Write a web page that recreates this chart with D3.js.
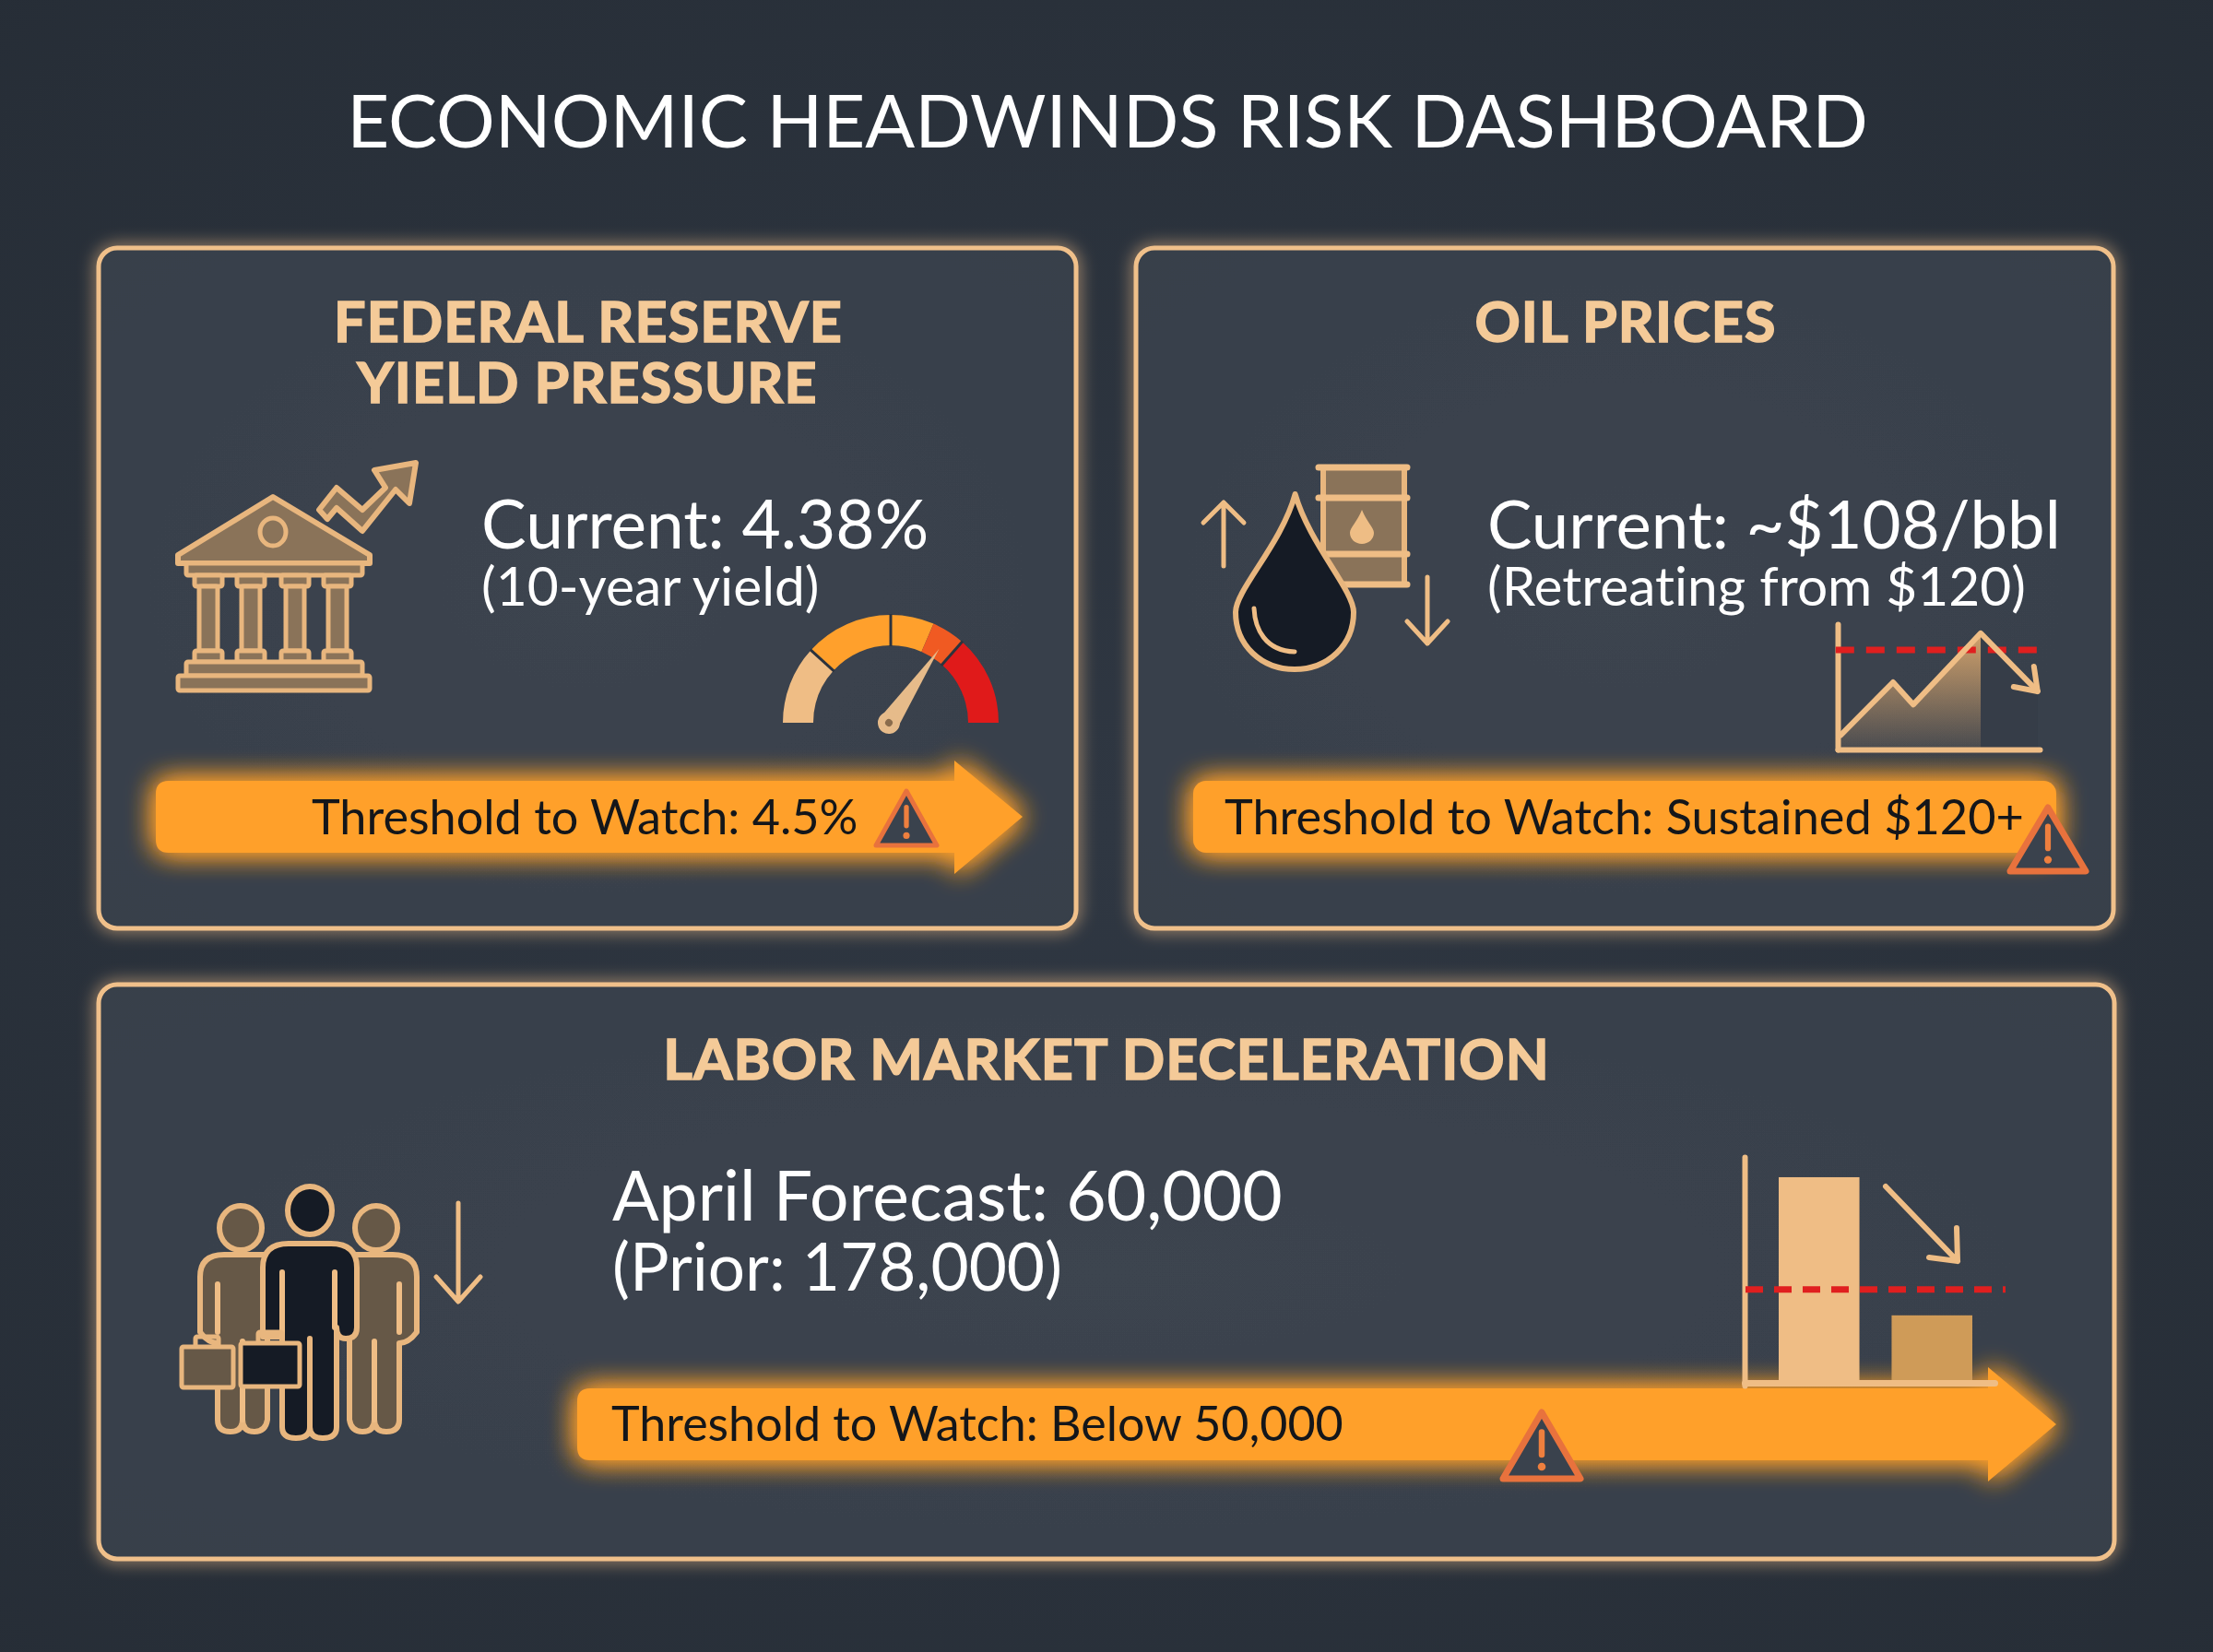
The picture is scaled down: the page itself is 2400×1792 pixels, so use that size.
<!DOCTYPE html>
<html>
<head>
<meta charset="utf-8">
<script src="https://cdn.jsdelivr.net/npm/d3@7"></script>
<style>
  html, body { margin: 0; padding: 0; background: #2a313b; }
  svg { display: block; }
  text { font-family: Lato, "Open Sans", sans-serif; font-variant-ligatures: none; }
</style>
</head>
<body>
<div id="container"></div>
<script>
/* CONSTANTS AND GLOBALS */
const width = 2400;
const height = 1792;
const TAN = "#efbd85";
const ORANGE = "#ffa02c";
const RED = "#e01f1f";
const INK = "#151b25";
const BROWN = "#8a7359";
const BROWN_DARK = "#665847";
const PANEL = "#3a424d";

/* DATA */
const titleText = "ECONOMIC HEADWINDS RISK DASHBOARD";

// gauge: 10-year yield
const gaugeStops = [3.0, 3.47, 4.0, 4.26, 4.46, 5.0];
const gaugeColors = [TAN, ORANGE, ORANGE, "#f05a22", "#e01a1a"];
const gaugeSeparators = [3.47, 4.0, 4.46];
const currentYield = 4.38;

// oil mini chart
const oilWeeks = [1.4, 27.4, 37.4, 70.8, 99];
const oilPrices = [17, 81, 54, 140, 70];
const oilThreshold = 120;

// payrolls mini chart
const jobCategories = ["Prior", "April Forecast"];
const jobValues = [178000, 60000];
const jobLineDrawn = 82000; // where the dashed line sits in the picture

/* APPENDING SVG */
const svg = d3.select("#container")
  .append("svg")
    .attr("width", width)
    .attr("height", height);

const defs = svg.append("defs");

const bgGrad = defs.append("radialGradient").attr("id", "bg").attr("r", "75%");
bgGrad.append("stop").attr("offset", "0%").attr("stop-color", "#2f3742");
bgGrad.append("stop").attr("offset", "100%").attr("stop-color", "#262d36");

const panelGrad = defs.append("radialGradient").attr("id", "panelFill").attr("r", "75%");
panelGrad.append("stop").attr("offset", "0%").attr("stop-color", "#3c444f");
panelGrad.append("stop").attr("offset", "100%").attr("stop-color", "#373f4a");

const areaGrad = defs.append("linearGradient").attr("id", "oilArea")
  .attr("x1", 0).attr("y1", 0).attr("x2", 0).attr("y2", 1);
areaGrad.append("stop").attr("offset", "0%").attr("stop-color", "#d2a26c");
areaGrad.append("stop").attr("offset", "100%").attr("stop-color", "#d2a26c").attr("stop-opacity", 0.1);

function glow(id, blur, strong) {
  const f = defs.append("filter").attr("id", id)
    .attr("x", "-15%").attr("y", "-60%").attr("width", "130%").attr("height", "220%");
  f.append("feGaussianBlur").attr("in", "SourceGraphic").attr("stdDeviation", blur).attr("result", "b");
  const m = f.append("feMerge");
  m.append("feMergeNode").attr("in", "b");
  if (strong) m.append("feMergeNode").attr("in", "b");
  m.append("feMergeNode").attr("in", "SourceGraphic");
}
glow("arrowGlow", 15, true);
glow("panelGlow", 9, false);

svg.append("rect").attr("width", width).attr("height", height).attr("fill", "url(#bg)");

/* TITLE */
svg.append("text")
  .attr("x", 1201).attr("y", 160)
  .attr("text-anchor", "middle")
  .attr("fill", "#ffffff")
  .style("font-size", "79.7px")
  .text(titleText);

/* PANELS */
const panelX = [107, 1232, 107];
const panelY = [269, 269, 1068];
const panelW = [1060, 1060, 2186];
const panelH = [738, 738, 623];

panelX.forEach((px, i) => {
  svg.append("rect")
    .attr("x", px).attr("y", panelY[i])
    .attr("width", panelW[i]).attr("height", panelH[i])
    .attr("rx", 20)
    .attr("fill", "url(#panelFill)")
    .attr("stroke", "#f0c08a")
    .attr("stroke-width", 5)
    .attr("filter", "url(#panelGlow)");
});

function label(txt, x, y, size, color, anchor, weight) {
  return svg.append("text")
    .attr("x", x).attr("y", y)
    .attr("text-anchor", anchor || "start")
    .attr("fill", color)
    .attr("font-weight", weight || 400)
    .style("font-size", size + "px")
    .text(txt);
}

// no heavier Lato here, so thicken the bold a bit
const HEAD = "#f4ca98";
function heading(txt, x, y) {
  label(txt, x, y, 61, HEAD, "middle", 700)
    .attr("stroke", HEAD).attr("stroke-width", 1.6)
    .style("letter-spacing", "1.1px");
}
heading("FEDERAL RESERVE", 638, 371);
heading("YIELD PRESSURE", 637, 437);
heading("OIL PRICES", 1763, 371);
heading("LABOR MARKET DECELERATION", 1200, 1171);

label("Current: 4.38%", 522, 595, 73, "#ffffff");
label("(10-year yield)", 522, 657, 58.7, "#ffffff");
label("Current: ~$108/bbl", 1613, 595, 72.5, "#ffffff");
label("(Retreating from $120)", 1613, 657, 58.6, "#ffffff");
label("April Forecast: 60,000", 664, 1324, 75, "#ffffff");
label("(Prior: 178,000)", 664, 1400, 71, "#ffffff");

/* THRESHOLD ARROWS */
function thresholdArrow(x0, xBase, xTip, top, bottom, headTop, headBottom) {
  const mid = (top + bottom) / 2;
  const r = 14;
  const d = `M${x0 + r},${top} H${xBase} V${headTop} L${xTip},${mid} L${xBase},${headBottom} V${bottom} H${x0 + r}
    Q${x0},${bottom} ${x0},${bottom - r} V${top + r} Q${x0},${top} ${x0 + r},${top} Z`;
  svg.append("path").attr("d", d).attr("fill", ORANGE).attr("filter", "url(#arrowGlow)");
}
thresholdArrow(169, 1035, 1109, 847, 925, 825, 948);
thresholdArrow(626, 2156, 2230, 1506, 1584, 1483, 1607);

svg.append("rect")
  .attr("x", 1294).attr("y", 847).attr("width", 936).attr("height", 78)
  .attr("rx", 14).attr("fill", ORANGE).attr("filter", "url(#arrowGlow)");

label("Threshold to Watch: 4.5%", 338, 905, 52.2, "#14161a");
label("Threshold to Watch: Sustained $120+", 1328, 905, 52.3, "#14161a");
label("Threshold to Watch: Below 50,000", 663, 1563, 52, "#14161a");

/* WARNING TRIANGLES */
function warning(cx, apex, base, half, sw) {
  const h = base - apex;
  const g = svg.append("g");
  g.append("path")
    .attr("d", `M${cx},${apex} L${cx + half},${base} L${cx - half},${base} Z`)
    .attr("fill", PANEL)
    .attr("stroke", "#e8723d")
    .attr("stroke-width", sw)
    .attr("stroke-linejoin", "round");
  g.append("line")
    .attr("x1", cx).attr("x2", cx)
    .attr("y1", apex + h * 0.3).attr("y2", apex + h * 0.64)
    .attr("stroke", "#ee7f3e").attr("stroke-width", h * 0.09).attr("stroke-linecap", "round");
  g.append("circle")
    .attr("cx", cx).attr("cy", apex + h * 0.82).attr("r", h * 0.06).attr("fill", "#ee7f3e");
}
warning(983, 858, 917, 33, 5);
warning(2221, 876, 945, 41, 7);
warning(1672, 1532, 1604, 42, 7);

/* ICON HELPERS */
const line = (g, d, w) => g.append("path")
  .attr("d", d).attr("fill", "none").attr("stroke", TAN)
  .attr("stroke-width", w || 6).attr("stroke-linecap", "round").attr("stroke-linejoin", "round");
const shape = (g, d, fill, w) => g.append("path")
  .attr("d", d).attr("fill", fill).attr("stroke", "#e8b67e")
  .attr("stroke-width", w || 6).attr("stroke-linejoin", "round");
const box = (g, x, y, w, h, fill) => g.append("rect")
  .attr("x", x).attr("y", y).attr("width", w).attr("height", h)
  .attr("fill", fill).attr("stroke", "#e8b67e").attr("stroke-width", 5).attr("rx", 2);

/* BANK ICON */
const bank = svg.append("g");
shape(bank, "M346,553 L365,529 393,553 418,529 406,510 451,502 444,546 429,531 393,576 365,551 355,563 Z", BROWN);
shape(bank, "M296,539 L401,602 V611 H193 V602 Z", BROWN);
bank.append("ellipse").attr("cx", 296).attr("cy", 577).attr("rx", 14).attr("ry", 15)
  .attr("fill", BROWN).attr("stroke", "#e8b67e").attr("stroke-width", 5);
box(bank, 202, 611, 191, 13, BROWN);
[226, 272, 320, 366].forEach(c => {
  box(bank, c - 15, 624, 30, 12, BROWN);
  box(bank, c - 10, 636, 20, 70, BROWN);
  box(bank, c - 15, 706, 30, 12, BROWN);
});
box(bank, 202, 718, 191, 15, BROWN);
box(bank, 193, 733, 208, 16, BROWN);

/* GAUGE */
const gaugeCx = 966, gaugeCy = 784;
const gaugeAngle = d3.scaleLinear().domain([3, 5]).range([-Math.PI / 2, Math.PI / 2]);
const gaugeArc = d3.arc().innerRadius(84).outerRadius(117);
const gauge = svg.append("g").attr("transform", `translate(${gaugeCx},${gaugeCy})`);

gauge.selectAll("path.seg")
  .data(gaugeColors)
  .join("path")
  .attr("class", "seg")
  .attr("fill", d => d)
  .attr("d", (d, i) => gaugeArc({
    startAngle: gaugeAngle(gaugeStops[i]),
    endAngle: gaugeAngle(gaugeStops[i + 1])
  }));

gauge.selectAll("line.sep")
  .data(gaugeSeparators)
  .join("line")
  .attr("class", "sep")
  .attr("y1", -83).attr("y2", -118)
  .attr("stroke", "#2c333d").attr("stroke-width", 3)
  .attr("transform", d => `rotate(${gaugeAngle(d) * 180 / Math.PI})`);

const needle = gauge.append("g")
  .attr("transform", `translate(-2,0) rotate(${gaugeAngle(currentYield) * 180 / Math.PI})`);
needle.append("path").attr("d", "M-11,0 L0,-97 L11,0 Z").attr("fill", "#e6bb8a");
needle.append("circle").attr("r", 12).attr("fill", "#e6bb8a");
needle.append("circle").attr("r", 4).attr("fill", "#8a6c4c");

/* OIL ICON */
const oil = svg.append("g");
oil.append("rect").attr("x", 1435).attr("y", 507).attr("width", 88).attr("height", 127)
  .attr("fill", BROWN).attr("stroke", "#e8b67e").attr("stroke-width", 6);
[507, 540, 601, 634].forEach(y => line(oil, `M1430,${y} H1526`, 7));
oil.append("path")
  .attr("d", "M1477,553 C1472,566 1464,572 1464,578 C1464,585 1470,590 1477,590 C1484,590 1490,585 1490,578 C1490,572 1482,566 1477,553 Z")
  .attr("fill", "#eebd85");
shape(oil, "M1404.6,536 C1390,590 1340,640 1340,664 C1340,700 1368,726 1404,726 C1440,726 1468,700 1468,664 C1468,640 1420,590 1404.6,536 Z", INK);
line(oil, "M1360,660 C1361,682 1372,706 1404,707", 5);
line(oil, "M1327,614 V545 M1305,567 L1327,545 L1349,567", 5);
line(oil, "M1548,626 V698 M1526,674 L1548,698 L1570,674", 5);

/* OIL MINI CHART */
const oilX = d3.scaleLinear().domain([0, 100]).range([1993, 2212]);
const oilY = d3.scaleLinear().domain([0, 151]).range([813, 677]);

const oilPoints = oilWeeks.map((w, i) => ({ week: w, price: oilPrices[i] }));
const oilArea = d3.area().x(d => oilX(d.week)).y0(oilY(0)).y1(d => oilY(d.price));
const oilLine = d3.line().x(d => oilX(d.week)).y(d => oilY(d.price));

svg.append("path")
  .attr("d", oilArea(oilPoints.slice(3)))
  .attr("fill", "#363d48");
svg.append("path")
  .attr("d", oilArea(oilPoints.slice(0, 4)))
  .attr("fill", "url(#oilArea)");

const oilAxisX = svg.append("g").attr("transform", `translate(0,${oilY(0)})`)
  .call(d3.axisBottom(oilX).tickValues([]).tickSizeOuter(0));
const oilAxisY = svg.append("g").attr("transform", `translate(${oilX(0)},0)`)
  .call(d3.axisLeft(oilY).tickValues([]).tickSizeOuter(0));
[oilAxisX, oilAxisY].forEach(a => a.select(".domain")
  .attr("stroke", TAN).attr("stroke-width", 6).attr("stroke-linecap", "round"));

svg.append("line")
  .attr("x1", oilX(-1)).attr("x2", oilX(99))
  .attr("y1", oilY(oilThreshold)).attr("y2", oilY(oilThreshold))
  .attr("stroke", RED).attr("stroke-width", 7)
  .attr("stroke-dasharray", "20 13");

svg.append("path")
  .attr("d", oilLine(oilPoints))
  .attr("fill", "none").attr("stroke", TAN)
  .attr("stroke-width", 6).attr("stroke-linejoin", "round").attr("stroke-linecap", "round");
const oilEnd = oilPoints[oilPoints.length - 1];
line(svg, `M${oilX(oilEnd.week) - 26},${oilY(oilEnd.price) - 5} L${oilX(oilEnd.week)},${oilY(oilEnd.price)} L${oilX(oilEnd.week) - 4},${oilY(oilEnd.price) - 27}`, 6);

/* PEOPLE ICON */
const people = svg.append("g");
const sideBody = "M217,1445 V1385 Q217,1361 243,1361 H290 V1540 Q288,1553 276,1553 Q263,1553 263,1540 Q263,1553 250,1553 Q236,1553 236,1540 V1457 Q226,1457 217,1445 Z";
const sideLines = "M236,1393 V1445 M263,1455 V1540";

function sidePerson(tr) {
  const g = people.append("g").attr("transform", tr);
  shape(g, sideBody, BROWN_DARK);
  line(g, sideLines, 6);
  g.append("ellipse").attr("cx", 261).attr("cy", 1332).attr("rx", 23).attr("ry", 24)
    .attr("fill", BROWN_DARK).attr("stroke", "#e8b67e").attr("stroke-width", 6);
}
sidePerson("");
sidePerson("translate(669,0) scale(-1,1)");

shape(people, "M285,1450 V1375 Q285,1349 313,1349 H359 Q387,1349 387,1375 V1440 Q387,1452 375,1452 Q365,1452 365,1440 V1548 Q365,1560 350,1560 Q336,1560 336,1548 V1452 V1548 Q336,1560 321,1560 Q306,1560 306,1548 V1450 Z", INK);
line(people, "M306,1380 V1450 M363,1380 V1440", 6);
people.append("ellipse").attr("cx", 336).attr("cy", 1313).attr("rx", 24).attr("ry", 26)
  .attr("fill", INK).attr("stroke", "#e8b67e").attr("stroke-width", 6);

box(people, 212, 1450, 25, 12, "none");
box(people, 197, 1461, 56, 44, BROWN_DARK);
box(people, 280, 1445, 26, 12, "none");
box(people, 261, 1457, 64, 47, INK);
line(people, "M497,1305 V1411 M473,1385 L497,1412 L521,1385", 5);

/* JOBS MINI CHART */
const jobX = d3.scaleBand().domain(jobCategories).range([1929, 2139]).paddingInner(0.285);
const jobY = d3.scaleLinear().domain([0, 195300]).range([1503, 1255]);

svg.selectAll("rect.bar")
  .data(jobValues)
  .join("rect")
  .attr("class", "bar")
  .attr("x", (d, i) => jobX(jobCategories[i]))
  .attr("y", d => jobY(d))
  .attr("width", jobX.bandwidth())
  .attr("height", d => jobY(0) - jobY(d))
  .attr("fill", (d, i) => i === 0 ? "#efbd85" : "#cf9b58");

const jobAxisX = svg.append("g").attr("transform", `translate(0,${jobY(0) - 3})`)
  .call(d3.axisBottom(d3.scaleLinear().domain([0, 1]).range([1892, 2163])).tickValues([]).tickSizeOuter(0));
const jobAxisY = svg.append("g").attr("transform", "translate(1892,0)")
  .call(d3.axisLeft(jobY).tickValues([]).tickSizeOuter(0));
jobAxisX.select(".domain").attr("stroke", TAN).attr("stroke-width", 7).attr("stroke-linecap", "round");
jobAxisY.select(".domain").attr("stroke", TAN).attr("stroke-width", 6).attr("stroke-linecap", "round");

svg.append("line")
  .attr("x1", 1893).attr("x2", 2175)
  .attr("y1", jobY(jobLineDrawn)).attr("y2", jobY(jobLineDrawn))
  .attr("stroke", RED).attr("stroke-width", 7)
  .attr("stroke-dasharray", "19 12");

line(svg, "M2045,1287 L2123,1368 M2092,1364 L2123,1368 L2122,1332", 6);
</script>
</body>
</html>
